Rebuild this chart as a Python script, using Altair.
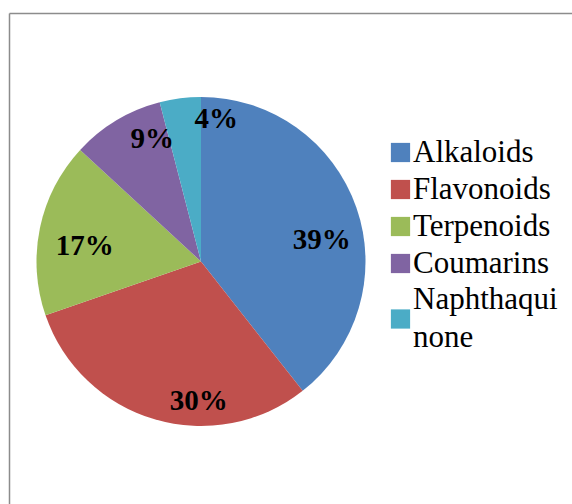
import math
import altair as alt
import pandas as pd

categories = ["Alkaloids", "Flavonoids", "Terpenoids", "Coumarins", "Naphthaquinone"]
shares = [39, 30, 17, 9, 4]
colors = ["#4F81BD", "#C0504D", "#9BBB59", "#8064A2", "#4BACC6"]

df = pd.DataFrame({"category": categories, "share": shares, "order": list(range(len(categories)))})
df["label"] = df["share"].astype(str) + "%"
TOTAL = float(sum(shares))

CX, CY, R = 201, 261.5, 164.5
LABEL_R = 132
# small nudges (px) so the percentage labels sit where the original placed them
label_nudge = {
    "Alkaloids": (-4, 22),
    "Flavonoids": (35, 13),
    "Terpenoids": (13, 12),
    "Coumarins": (19, -9),
    "Naphthaquinone": (32, -12),
}

color_scale = alt.Scale(domain=categories, range=colors)
theta_scale = alt.Scale(domain=[0, TOTAL], range=[0, 2 * math.pi])

stacked = (
    alt.Chart(df)
    .transform_window(cum="sum(share)", sort=[alt.SortField("order")])
    .transform_calculate(start="datum.cum - datum.share", mid="datum.cum - datum.share / 2")
)

pie = stacked.mark_arc(outerRadius=R).encode(
    x=alt.value(CX),
    y=alt.value(CY),
    theta=alt.Theta("start:Q", scale=theta_scale, stack=None),
    theta2="cum:Q",
    color=alt.Color("category:N", scale=color_scale, legend=None),
)

label_layers = []
for cat, (ddx, ddy) in label_nudge.items():
    label_layers.append(
        stacked.transform_filter(alt.datum.category == cat)
        .mark_text(
            radius=LABEL_R,
            font="Liberation Serif",
            fontSize=29,
            fontWeight="bold",
            color="#000000",
            dx=ddx,
            dy=ddy,
        )
        .encode(
            x=alt.value(CX),
            y=alt.value(CY),
            theta=alt.Theta("mid:Q", scale=theta_scale, stack=None),
            text="label:N",
        )
    )

# legend rows (piecewise scale: the two-line entry sits lower)
leg_y = alt.Y(
    "order:Q",
    scale=alt.Scale(domain=[0, 3, 4], range=[152.5, 263.5, 319]),
    axis=None,
)

leg_sw = alt.Chart(df).mark_square(size=370, opacity=1).encode(
    x=alt.value(400.5),
    y=leg_y,
    color=alt.Color("category:N", scale=color_scale, legend=None),
)

leg_txt_style = dict(
    align="left",
    baseline="middle",
    font="Liberation Serif",
    fontSize=31,
    color="#000000",
)

leg_txt = (
    alt.Chart(df)
    .transform_filter(alt.datum.category != "Naphthaquinone")
    .mark_text(**leg_txt_style)
    .encode(x=alt.value(413), y=leg_y, text="category:N")
)

leg_txt_wrap = (
    alt.Chart(df)
    .transform_filter(alt.datum.category == "Naphthaquinone")
    .transform_calculate(legtext="'Naphthaqui\\nnone'")
    .mark_text(lineBreak="\n", lineHeight=38, dy=-19, **leg_txt_style)
    .encode(x=alt.value(413), y=leg_y, text="legtext:N")
)

frame_df = pd.DataFrame({"k": [0]})
top_line = alt.Chart(frame_df).mark_rule(color="#8c8c8c", strokeWidth=1.5).encode(
    x=alt.value(9.5), x2=alt.value(572), y=alt.value(13.5)
)
left_line = alt.Chart(frame_df).mark_rule(color="#8c8c8c", strokeWidth=1.5).encode(
    x=alt.value(9.5), y=alt.value(13.5), y2=alt.value(504)
)

chart = alt.layer(pie, *label_layers, leg_sw, leg_txt, leg_txt_wrap, top_line, left_line).properties(
    width=572,
    height=504,
    autosize=alt.AutoSizeParams(type="none"),
    padding=0,
).configure_view(strokeWidth=0)

chart.save("out.html", embed_options={"renderer": "svg", "actions": False})
